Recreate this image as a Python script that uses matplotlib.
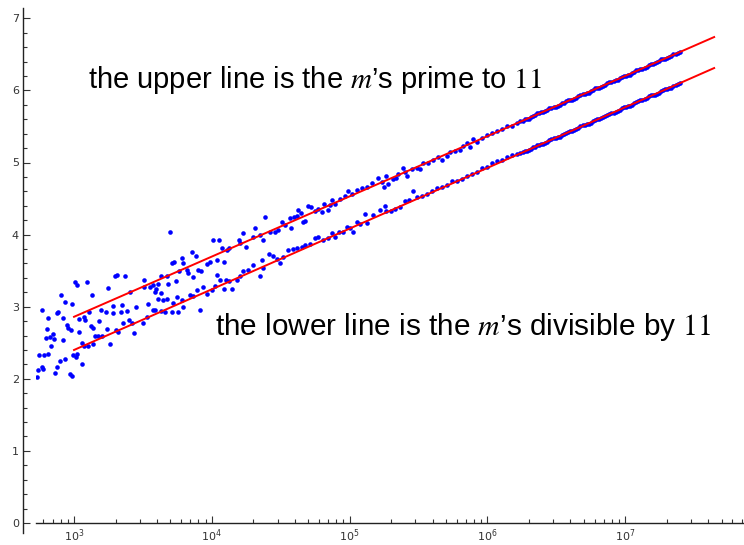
import matplotlib
matplotlib.use('Agg')
import matplotlib.pyplot as plt
from matplotlib.ticker import MultipleLocator, LogLocator
import numpy as np

# points: log10(m) and value
pts_log_m = [
    2.734, 2.741, 2.766, 2.777, 2.748, 2.782, 2.813, 2.768, 2.813, 2.802,
    2.797, 2.826, 2.845, 2.855, 2.831, 2.874, 2.886, 2.903, 2.937, 2.918,
    2.918, 2.947, 2.959, 2.976, 2.983, 3.005, 3.020, 3.097, 3.128, 3.038,
    3.073, 3.080, 3.107, 3.126, 3.140, 3.038, 3.184, 3.155, 3.194, 3.232,
    3.237, 3.249, 3.281, 3.285, 3.295, 3.314, 3.368, 3.321, 3.339, 3.348,
    3.382, 3.353, 3.397, 3.406, 3.450, 3.421, 3.435, 3.056, 3.073, 3.104,
    3.140, 3.176, 3.261, 3.305, 3.201, 2.995, 3.015, 3.020, 3.056, 2.935,
    2.898, 2.874, 2.862, 2.971, 2.983,
    3.697, 3.709, 3.726, 3.782, 3.793, 3.854, 3.885, 4.011, 4.054, 4.072,
    4.108, 4.127, 4.195, 4.224, 4.205, 4.248, 3.987, 3.963, 4.040, 4.089,
    3.764, 3.818, 3.829, 3.902, 3.919, 3.866, 3.740, 3.684, 3.673, 3.629,
    3.612, 3.575, 3.552, 3.508, 3.508, 3.588, 3.612, 3.648, 3.677, 3.595,
    3.629, 3.539, 3.575, 3.588, 3.629, 3.660, 3.713, 3.745, 3.782, 3.793,
    3.842, 3.866, 3.895, 3.938, 3.963, 3.999, 4.023, 4.040, 4.060, 4.089,
    4.103, 4.127, 4.144, 4.181, 4.205, 4.229, 4.265, 3.914, 3.721, 3.757,
    3.528, 3.503,
    4.386, 4.314, 4.301, 4.350, 4.369, 4.422, 4.459, 4.483, 4.507, 4.531,
    4.568, 4.573, 4.597, 4.616, 4.628, 4.645, 4.664, 4.676, 4.700, 4.718,
    4.749, 4.773, 4.798, 4.814, 4.845, 4.858, 4.870, 4.894, 4.930, 4.967,
    4.991, 5.015, 5.052, 5.088, 5.124,
    4.297, 4.362, 4.374, 4.350, 4.417, 4.446, 4.471, 4.495, 4.519, 4.555,
    4.591, 4.616, 4.652, 4.676, 4.713, 4.749, 4.773, 4.809, 4.845, 4.870,
    4.894, 4.925, 4.954, 4.979, 5.003, 5.027, 5.056, 5.076, 5.112, 5.128,
    5.160, 5.208, 5.233, 5.250, 5.264, 5.281, 5.313, 5.337, 5.353, 5.385,
    5.419, 5.402, 5.451, 5.487, 5.511, 5.535, 5.571, 5.607, 5.644, 5.668,
    5.705, 5.729, 5.765, 5.801, 5.825, 5.850, 5.874, 5.898, 5.922, 5.959,
    5.995, 6.031, 6.068, 6.104, 6.140, 6.176, 6.213,
    5.172, 5.221, 5.257, 5.264, 5.298, 5.330, 5.366, 5.402, 5.433, 5.462,
    5.487, 5.523, 5.560, 5.596, 5.632, 5.668, 5.705, 5.741, 5.777, 5.814,
    5.850, 5.886, 5.922, 5.959, 5.995, 6.031, 6.068, 6.104, 6.140, 6.176,
    6.213,
]
pts_val = [
    2.03, 2.12, 2.17, 2.13, 2.33, 2.33, 2.34, 2.96, 2.85, 2.69,
    2.56, 2.58, 2.62, 2.55, 2.45, 2.91, 2.93, 3.16, 3.07, 2.85,
    2.54, 2.75, 2.70, 2.68, 3.04, 3.34, 3.30, 3.34, 3.16, 2.83,
    2.86, 2.81, 2.93, 2.73, 2.70, 2.65, 2.80, 2.60, 2.95, 2.92,
    2.69, 3.26, 3.01, 2.91, 3.43, 3.44, 3.43, 2.65, 2.92, 3.03,
    2.94, 2.78, 2.81, 3.20, 3.00, 2.77, 2.64, 2.50, 2.45, 2.45,
    2.48, 2.59, 2.48, 2.67, 2.60, 2.33, 2.30, 2.35, 2.21, 2.28,
    2.24, 2.17, 2.08, 2.07, 2.04,
    4.04, 3.60, 3.62, 3.67, 3.61, 3.76, 3.70, 3.93, 3.92, 3.81,
    3.79, 3.81, 3.93, 4.02, 3.88, 3.83, 3.62, 3.59, 3.65, 3.62,
    3.49, 3.51, 3.47, 3.51, 3.49, 3.41, 3.35, 3.32, 3.42, 3.43,
    3.31, 3.30, 3.27, 3.27, 3.37, 3.21, 3.10, 3.09, 3.10, 3.24,
    3.19, 3.04, 2.96, 2.95, 2.94, 2.93, 2.93, 3.14, 3.09, 3.00,
    3.16, 3.15, 3.23, 3.27, 3.18, 3.23, 3.29, 3.44, 3.37, 3.24,
    3.37, 3.36, 3.24, 3.37, 3.42, 3.49, 3.51, 2.95, 3.05, 2.92,
    2.86, 2.77,
    4.25, 4.09, 3.96, 3.99, 3.93, 4.03, 4.03, 4.06, 4.18, 4.13,
    4.23, 4.09, 4.25, 4.26, 4.34, 4.30, 4.18, 4.19, 4.40, 4.38,
    4.33, 4.35, 4.32, 4.42, 4.34, 4.41, 4.48, 4.43, 4.50, 4.54,
    4.60, 4.56, 4.62, 4.64, 4.66,
    3.58, 3.65, 3.53, 3.43, 3.73, 3.70, 3.66, 3.61, 3.69, 3.79,
    3.80, 3.81, 3.83, 3.86, 3.87, 3.95, 3.96, 3.93, 3.95, 4.02,
    3.96, 4.03, 4.04, 4.10, 4.09, 4.03, 4.17, 4.15, 4.29, 4.16,
    4.71, 4.79, 4.73, 4.66, 4.81, 4.70, 4.77, 4.78, 4.84, 4.93,
    4.81, 4.87, 4.91, 4.92, 4.91, 4.99, 5.00, 5.03, 5.08, 5.04,
    5.09, 5.15, 5.16, 5.18, 5.23, 5.27, 5.22, 5.32, 5.29, 5.34,
    5.38, 5.41, 5.44, 5.47, 5.50, 5.50, 5.55,
    4.27, 4.34, 4.40, 4.33, 4.33, 4.36, 4.38, 4.46, 4.48, 4.61,
    4.52, 4.53, 4.57, 4.61, 4.64, 4.66, 4.69, 4.75, 4.75, 4.77,
    4.81, 4.84, 4.87, 4.92, 4.94, 4.99, 5.02, 5.04, 5.07, 5.10,
    5.12,
]

# dense tail where the dots sit on the lines
tail_log_m = [
    6.240, 6.255, 6.270, 6.285, 6.300, 6.315, 6.330, 6.345, 6.360, 6.375,
    6.390, 6.405, 6.420, 6.435, 6.450, 6.465, 6.480, 6.495, 6.510, 6.525,
    6.540, 6.555, 6.570, 6.585, 6.600, 6.615, 6.630, 6.645, 6.660, 6.675,
    6.690, 6.705, 6.720, 6.735, 6.750, 6.765, 6.780, 6.795, 6.810, 6.825,
    6.840, 6.855, 6.870, 6.885, 6.900, 6.915, 6.930, 6.945, 6.960, 6.975,
    6.990, 7.005, 7.020, 7.035, 7.050, 7.065, 7.080, 7.095, 7.110, 7.125,
    7.140, 7.155, 7.170, 7.185, 7.200, 7.215, 7.230, 7.245, 7.260, 7.275,
    7.290, 7.305, 7.320, 7.335, 7.350, 7.365, 7.380, 7.395,
]
tail_upper = [
    5.57, 5.58, 5.60, 5.60, 5.61, 5.63, 5.64, 5.66, 5.68, 5.69,
    5.70, 5.70, 5.71, 5.73, 5.75, 5.76, 5.77, 5.77, 5.78, 5.80,
    5.82, 5.83, 5.85, 5.86, 5.87, 5.87, 5.88, 5.90, 5.92, 5.93,
    5.95, 5.95, 5.96, 5.97, 5.99, 6.01, 6.03, 6.03, 6.04, 6.05,
    6.06, 6.08, 6.10, 6.11, 6.12, 6.13, 6.14, 6.15, 6.17, 6.18,
    6.20, 6.20, 6.21, 6.22, 6.24, 6.26, 6.28, 6.28, 6.29, 6.30,
    6.31, 6.33, 6.35, 6.36, 6.37, 6.38, 6.39, 6.41, 6.43, 6.43,
    6.44, 6.45, 6.46, 6.48, 6.50, 6.51, 6.52, 6.53,
]
tail_lower = [
    5.13, 5.14, 5.16, 5.16, 5.17, 5.19, 5.21, 5.22, 5.24, 5.24,
    5.25, 5.26, 5.27, 5.29, 5.31, 5.32, 5.34, 5.34, 5.35, 5.36,
    5.38, 5.40, 5.41, 5.42, 5.44, 5.44, 5.45, 5.46, 5.48, 5.50,
    5.52, 5.52, 5.53, 5.54, 5.55, 5.57, 5.59, 5.60, 5.61, 5.62,
    5.63, 5.64, 5.66, 5.67, 5.69, 5.69, 5.70, 5.71, 5.73, 5.75,
    5.77, 5.77, 5.78, 5.79, 5.80, 5.82, 5.84, 5.85, 5.86, 5.87,
    5.88, 5.90, 5.92, 5.93, 5.94, 5.94, 5.95, 5.97, 5.99, 6.00,
    6.02, 6.02, 6.03, 6.04, 6.06, 6.07, 6.09, 6.10,
]

# fitted lines
line_m = [1e3, 4.42e7]
upper_line = [2.86, 6.74]
lower_line = [2.40, 6.31]

fig = plt.figure(figsize=(7.44, 5.45), dpi=100)
ax = fig.add_axes([36/744, 12/545, 708/744, 525/545])
ax.set_xscale('log')
ax.set_xlim(10**2.724, 10**7.862)
ax.set_ylim(-10/72.1, 515/72.1)

m_all = 10**np.array(pts_log_m + tail_log_m + tail_log_m)
v_all = pts_val + tail_upper + tail_lower
ax.plot(m_all, v_all, 'o', color='#0000ff', markersize=3.3, markeredgewidth=0, zorder=2)
ax.plot(line_m, upper_line, color='#ff0000', lw=1.4, zorder=3)
ax.plot(line_m, lower_line, color='#ff0000', lw=1.4, zorder=3)

ax.text(10**3.10, 6.14, 'the upper line is the $m$\u2019s prime to $11$',
        family='Liberation Sans', math_fontfamily='stix', fontsize=21, va='center')
ax.text(10**4.023, 2.72, 'the lower line is the $m$\u2019s divisible by $11$',
        family='Liberation Sans', math_fontfamily='stix', fontsize=21.4, va='center')

for s in ['top', 'right']:
    ax.spines[s].set_visible(False)
ax.spines['left'].set_position(('outward', 13 * 72 / 100))
ax.spines['bottom'].set_position(('data', 0))
for s in ['left', 'bottom']:
    ax.spines[s].set_linewidth(1.0)
    ax.spines[s].set_color('#222222')

ax.yaxis.set_major_locator(MultipleLocator(1))
ax.yaxis.set_minor_locator(MultipleLocator(0.2))
ax.xaxis.set_major_locator(LogLocator(base=10))
ax.xaxis.set_minor_locator(LogLocator(base=10, subs=np.arange(2, 10)))
ax.tick_params(which='both', direction='in', color='#333333', width=0.8,
               labelsize=8, labelcolor='#333333')
ax.tick_params(which='major', length=5, pad=3)
ax.tick_params(which='minor', length=3)
ax.xaxis.set_minor_formatter(plt.NullFormatter())

fig.savefig('out.png', dpi=100)
